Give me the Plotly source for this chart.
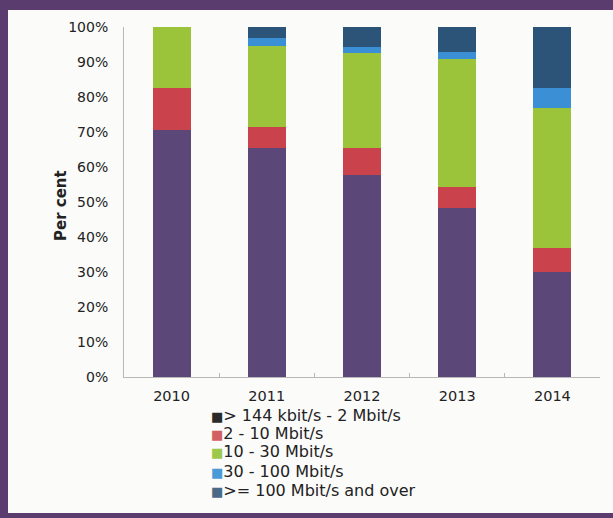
import plotly.graph_objects as go

# Broadband speed shares by year (per cent of connections)
years = ["2010", "2011", "2012", "2013", "2014"]
series_names = [
    "> 144 kbit/s - 2 Mbit/s",
    "2 - 10 Mbit/s",
    "10 - 30 Mbit/s",
    "30 - 100 Mbit/s",
    ">= 100 Mbit/s and over",
]
share_144k_2m = [70.5, 65.3, 57.7, 48.2, 30.1]
share_2_10m = [12.0, 6.2, 7.6, 6.2, 6.7]
share_10_30m = [17.5, 23.1, 27.2, 36.6, 40.2]
share_30_100m = [0.0, 2.2, 1.9, 1.9, 5.5]
share_100m_plus = [0.0, 3.2, 5.6, 7.1, 17.5]

series_values = [share_144k_2m, share_2_10m, share_10_30m, share_30_100m, share_100m_plus]
bar_colors = ["#5b4878", "#c9424c", "#9cc43b", "#3b8fd5", "#2c5479"]
legend_colors = ["#2a2a2a", "#d26262", "#9cc94a", "#4a9ad8", "#4b6a88"]
y_ticks = [0, 10, 20, 30, 40, 50, 60, 70, 80, 90, 100]
y_tick_labels = [f"{v}%" for v in y_ticks]

W, H = 613, 518
L, R, T, B = 124, 13, 27, 141
pw, ph = W - L - R, H - T - B

def px_x(x):
    return (x - L) / pw

def px_y(y):
    return (H - B - y) / ph

fig = go.Figure()
for name, vals, col in zip(series_names, series_values, bar_colors):
    fig.add_trace(go.Bar(
        x=years, y=vals, name=name, marker=dict(color=col, line=dict(width=0)),
        width=0.4, showlegend=False,
    ))

# legend rows: coloured square + label
legend_rows_y = [415, 433.5, 452, 471, 490]
annotations = []
for name, col, yy in zip(series_names, legend_colors, legend_rows_y):
    annotations.append(dict(
        x=px_x(209), y=px_y(yy), xref="paper", yref="paper",
        xanchor="left", yanchor="middle", showarrow=False,
        text=f"<span style='color:{col};font-size:13px'>■</span>{name.replace('>', '&gt;')}",
        font=dict(family="DejaVu Sans", size=16, color="#222222"),
    ))

annotations.append(dict(
    x=px_x(61), y=px_y(206), xref="paper", yref="paper",
    xanchor="center", yanchor="middle", showarrow=False, textangle=-90,
    text="<b>Per cent</b>",
    font=dict(family="DejaVu Sans", size=15, color="#222222"),
))

# light panel inside the purple frame
shapes = [dict(
    type="rect", xref="paper", yref="paper", layer="below",
    x0=px_x(8), x1=px_x(614), y0=px_y(513), y1=px_y(10),
    fillcolor="#fbfbfa", line=dict(width=0),
)]

fig.update_layout(
    width=W, height=H,
    margin=dict(l=L, r=R, t=T, b=B, pad=0),
    barmode="stack",
    paper_bgcolor="#5a3d6e",
    plot_bgcolor="#fbfbfa",
    font=dict(family="DejaVu Sans", size=14, color="#222222"),
    annotations=annotations,
    shapes=shapes,
    showlegend=False,
    xaxis=dict(
        type="category", showgrid=False, showline=True, linecolor="#b8b8b8", linewidth=1,
        ticks="inside", tickson="boundaries", ticklen=4, tickcolor="#b8b8b8",
        tickfont=dict(family="DejaVu Sans", size=14.5, color="#222222"),
        ticklabelstandoff=6,
    ),
    yaxis=dict(
        range=[0, 100], tickvals=y_ticks, ticktext=y_tick_labels, showgrid=False,
        showline=True, linecolor="#b8b8b8", linewidth=1, zeroline=False,
        ticks="", tickfont=dict(family="DejaVu Sans", size=14, color="#222222"),
        ticklabelstandoff=12,
    ),
)

fig.write_html("out.html")
